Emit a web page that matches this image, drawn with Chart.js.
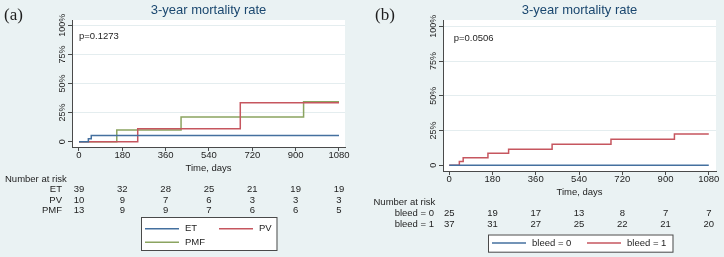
<!DOCTYPE html>
<html>
<head>
<meta charset="utf-8">
<script src="https://cdn.jsdelivr.net/npm/chart.js@4.4.1/dist/chart.umd.min.js"></script>
<style>
html, body { margin: 0; padding: 0; background: #eaf2f3; }
#wrap { position: relative; width: 724px; height: 257px; overflow: hidden; }
canvas { position: absolute; top: 0; }
</style>
</head>
<body>
<div id="wrap">
  <canvas id="chartA" width="362" height="257" style="left:0"></canvas>
  <canvas id="chartB" width="362" height="257" style="left:362px"></canvas>
</div>
<script>
// axis ticks
const tickDays = [0, 180, 360, 540, 720, 900, 1080];
const tickPct = [0, 25, 50, 75, 100];

// panel (a) - cumulative mortality by diagnosis
const etDays = [0, 39, 51, 1080];
const etRate = [0, 2.6, 5.3, 5.3];
const pvDays = [0, 244, 670, 1080];
const pvRate = [0, 11.0, 33.4, 33.4];
const pmfDays = [0, 157, 424, 933, 1080];
const pmfRate = [0, 10.0, 21.2, 34.3, 34.3];
const riskET = [39, 32, 28, 25, 21, 19, 19];
const riskPV = [10, 9, 7, 6, 3, 3, 3];
const riskPMF = [13, 9, 9, 7, 6, 6, 5];

// panel (b) - cumulative mortality by bleeding
const bleed0Days = [0, 1080];
const bleed0Rate = [0, 0];
const bleed1Days = [0, 42, 58, 161, 247, 428, 673, 937, 1080];
const bleed1Rate = [0, 2.7, 5.5, 8.6, 11.5, 15.1, 18.7, 22.5, 22.5];
const riskBleed0 = [25, 19, 17, 13, 8, 7, 7];
const riskBleed1 = [37, 31, 27, 25, 22, 21, 20];

const BLUE = '#44709f';
const RED = '#c6565f';
const GREEN = '#8ba460';
const TXT = '#1e1e1e';
const AXIS = '#4a4a4a';
const FONT = '"Liberation Sans", Arial, sans-serif';

function pts(days, rate) {
    return days.map(function (d, i) { return { x: d, y: rate[i] }; });
}

function serie(label, days, rate, color) {
    return {
        label: label,
        data: pts(days, rate),
        borderColor: color,
        backgroundColor: color,
        borderWidth: 1.5,
        pointRadius: 0,
        stepped: true,
        fill: false
    };
}

// draws white plot area, p value, panel letter, risk table and legend box
function extras(spec) {
    return {
        id: 'extras',
        beforeDraw: function (chart) {
            var a = chart.chartArea, ctx = chart.ctx;
            ctx.save();
            ctx.fillStyle = '#ffffff';
            ctx.fillRect(a.left, a.top, a.right - a.left, a.bottom - a.top);
            ctx.restore();
        },
        afterDraw: function (chart) {
            var ctx = chart.ctx, xs = chart.scales.x;
            ctx.save();
            ctx.textBaseline = 'middle';

            ctx.fillStyle = TXT;
            ctx.font = '17px "Liberation Serif", serif';
            ctx.textAlign = 'left';
            ctx.fillText(spec.letter.text, spec.letter.x, spec.letter.y);

            ctx.font = '9.5px ' + FONT;
            ctx.fillText(spec.p.text, spec.p.x, spec.p.y);

            // number at risk
            var rt = spec.risk;
            ctx.fillText('Number at risk', rt.x, rt.y);
            rt.rows.forEach(function (r) {
                ctx.textAlign = 'right';
                ctx.fillText(r.label, rt.labelRight, r.y);
                ctx.textAlign = 'center';
                r.values.forEach(function (v, i) {
                    ctx.fillText(String(v), xs.getPixelForValue(tickDays[i]), r.y);
                });
            });

            // legend
            var lg = spec.legend;
            ctx.fillStyle = '#ffffff';
            ctx.fillRect(lg.x1, lg.y1, lg.x2 - lg.x1, lg.y2 - lg.y1);
            ctx.strokeStyle = AXIS;
            ctx.lineWidth = 1;
            ctx.strokeRect(lg.x1 + 0.5, lg.y1 + 0.5, lg.x2 - lg.x1, lg.y2 - lg.y1);
            ctx.textAlign = 'left';
            lg.items.forEach(function (it) {
                var ds = chart.data.datasets[it.ds];
                ctx.strokeStyle = ds.borderColor;
                ctx.lineWidth = 1.5;
                ctx.beginPath();
                ctx.moveTo(it.x, it.y);
                ctx.lineTo(it.x + 34, it.y);
                ctx.stroke();
                ctx.fillStyle = TXT;
                ctx.fillText(ds.label, it.x + 40, it.y);
            });
            ctx.restore();
        }
    };
}

function panel(id, datasets, geo, spec) {
    var ctx = document.getElementById(id);
    return new Chart(ctx, {
        type: 'line',
        data: { datasets: datasets },
        plugins: [extras(spec)],
        options: {
            responsive: false,
            animation: false,
            devicePixelRatio: 1,
            layout: { padding: { left: 0, right: geo.right, top: 0, bottom: geo.bottom } },
            plugins: {
                legend: { display: false },
                tooltip: { enabled: false },
                title: {
                    display: true,
                    text: '3-year mortality rate',
                    color: '#1a476f',
                    fullSize: false,
                    font: { size: 13, family: FONT, weight: 'normal' },
                    padding: { top: 3, bottom: 1.4 }
                }
            },
            scales: {
                x: {
                    type: 'linear',
                    min: geo.xmin,
                    max: geo.xmax,
                    afterBuildTicks: function (s) { s.ticks = tickDays.map(function (v) { return { value: v }; }); },
                    afterFit: function (s) { s.height = 30; },
                    ticks: {
                        autoSkip: false, maxRotation: 0, padding: -1, color: TXT,
                        font: { size: 9.5, family: FONT },
                        callback: function (v) { return String(v); }
                    },
                    grid: { drawOnChartArea: false, tickColor: AXIS, tickLength: 4 },
                    border: { color: AXIS, width: 1 },
                    title: {
                        display: true, text: 'Time, days', color: TXT,
                        font: { size: 9.5, family: FONT },
                        padding: { top: 0, bottom: 3 }
                    }
                },
                y: {
                    type: 'linear',
                    min: geo.ymin,
                    max: geo.ymax,
                    afterBuildTicks: function (s) { s.ticks = tickPct.map(function (v) { return { value: v }; }); },
                    afterFit: function (s) { s.width = geo.yWidth; },
                    ticks: {
                        autoSkip: false, minRotation: 90, maxRotation: 90, crossAlign: 'center',
                        padding: -6, color: TXT,
                        font: { size: 9, family: FONT },
                        callback: function (v) { return v === 0 ? '0' : v + '%'; }
                    },
                    grid: {
                        color: function (c) { return c.tick && c.tick.value === 0 ? 'rgba(0,0,0,0)' : '#e4edef'; },
                        tickColor: AXIS, tickLength: 4
                    },
                    border: { color: AXIS, width: 1 }
                }
            }
        }
    });
}

panel('chartA', [
    serie('ET', etDays, etRate, BLUE),
    serie('PV', pvDays, pvRate, RED),
    serie('PMF', pmfDays, pmfRate, GREEN)
], { xmin: -29, xmax: 1105, ymin: -4.6, ymax: 104.6, yWidth: 72, right: 17, bottom: 80 }, {
    letter: { text: '(a)', x: 4, y: 16 },
    p: { text: 'p=0.1273', x: 79, y: 36.7 },
    risk: {
        x: 5, y: 179.5, labelRight: 62,
        rows: [
            { label: 'ET', values: riskET, y: 189.8 },
            { label: 'PV', values: riskPV, y: 200.1 },
            { label: 'PMF', values: riskPMF, y: 210.4 }
        ]
    },
    legend: {
        x1: 141, y1: 217, x2: 276.5, y2: 250,
        items: [{ ds: 0, x: 145, y: 228.7 }, { ds: 1, x: 219, y: 228.7 }, { ds: 2, x: 145, y: 242.3 }]
    }
});

panel('chartB', [
    serie('bleed = 0', bleed0Days, bleed0Rate, BLUE),
    serie('bleed = 1', bleed1Days, bleed1Rate, RED)
], { xmin: -26, xmax: 1110, ymin: -4.1, ymax: 104.5, yWidth: 81, right: 8, bottom: 56 }, {
    letter: { text: '(b)', x: 13, y: 16 },
    p: { text: 'p=0.0506', x: 91.7, y: 38.3 },
    risk: {
        x: 11.5, y: 202.7, labelRight: 72,
        rows: [
            { label: 'bleed = 0', values: riskBleed0, y: 213.3 },
            { label: 'bleed = 1', values: riskBleed1, y: 224 }
        ]
    },
    legend: {
        x1: 126, y1: 234.5, x2: 310.5, y2: 251.7,
        items: [{ ds: 0, x: 130, y: 243.1 }, { ds: 1, x: 225, y: 243.1 }]
    }
});
</script>
</body>
</html>
